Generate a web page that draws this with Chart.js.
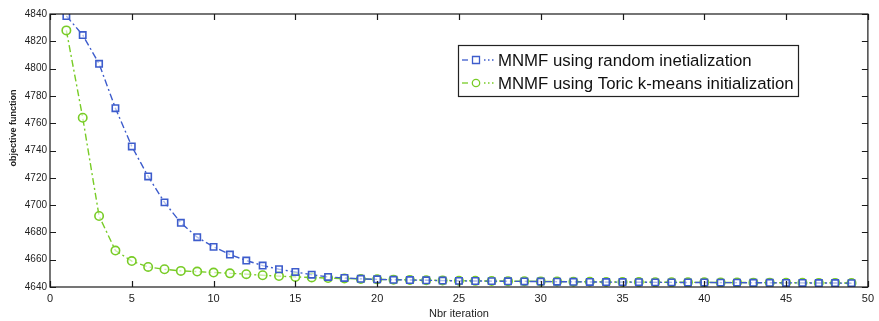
<!DOCTYPE html>
<html>
<head>
<meta charset="utf-8">
<script src="https://cdn.jsdelivr.net/npm/chart.js@4"></script>
<style>
  html, body { margin: 0; padding: 0; background: #ffffff; }
  #wrap { width: 879px; height: 321px; position: relative; }
</style>
</head>
<body>
<div id="wrap"><canvas id="c" width="879" height="321"></canvas></div>
<script>
// ---- data ----
const iterations = [1,2,3,4,5,6,7,8,9,10,11,12,13,14,15,16,17,18,19,20,21,22,23,24,25,26,27,28,29,30,31,32,33,34,35,36,37,38,39,40,41,42,43,44,45,46,47,48,49];
const randomInit = [4838.5,4824.6,4803.5,4771,4743,4721,4702,4687,4676.5,4669.4,4663.8,4659.4,4655.7,4653,4651,4649,4647.4,4646.6,4646,4645.6,4645.3,4645.1,4644.9,4644.7,4644.5,4644.4,4644.3,4644.2,4644.1,4644,4643.9,4643.8,4643.7,4643.6,4643.6,4643.5,4643.4,4643.4,4643.3,4643.3,4643.2,4643.2,4643.1,4643.1,4643,4643,4642.9,4642.9,4642.8];
const toricInit = [4828,4764,4692,4666.7,4659,4654.7,4653,4651.8,4651.3,4650.6,4650,4649.4,4648.6,4648,4647.4,4647,4646.6,4646.2,4645.9,4645.6,4645.4,4645.2,4645,4644.8,4644.6,4644.5,4644.4,4644.3,4644.2,4644.1,4644,4643.9,4643.8,4643.7,4643.7,4643.6,4643.5,4643.5,4643.4,4643.4,4643.3,4643.3,4643.2,4643.2,4643.1,4643.1,4643,4643,4642.9];
const seriesLabels = ["MNMF using random inetialization", "MNMF using Toric k-means initialization"];
const xTicks = [0,5,10,15,20,25,30,35,40,45,50];
const yTicks = [4640,4660,4680,4700,4720,4740,4760,4780,4800,4820,4840];
const xTitle = "Nbr iteration";
const yTitle = "objective function";

const BLUE = "#3d5ccc";
const GREEN = "#78cc26";
const AXIS_FONT = "'Liberation Sans', Arial, sans-serif";

function pts(xs, ys) { return xs.map((x, i) => ({ x: x, y: ys[i] })); }

const boxPlugin = {
  id: 'boxPlugin',
  afterDraw(chart) {
    const ctx = chart.ctx;
    const a = chart.chartArea;
    const xs = chart.scales.x, ys = chart.scales.y;
    ctx.save();
    ctx.strokeStyle = "#1a1a1a";
    ctx.lineWidth = 1.2;
    ctx.strokeRect(a.left, a.top, a.right - a.left, a.bottom - a.top);
    // inward ticks on all sides
    const tl = 6;
    ctx.beginPath();
    xTicks.forEach(v => {
      const px = Math.round(xs.getPixelForValue(v)) + 0.5;
      ctx.moveTo(px, a.bottom); ctx.lineTo(px, a.bottom - tl);
      ctx.moveTo(px, a.top); ctx.lineTo(px, a.top + tl);
    });
    yTicks.forEach(v => {
      const py = Math.round(ys.getPixelForValue(v)) + 0.5;
      ctx.moveTo(a.left, py); ctx.lineTo(a.left + tl, py);
      ctx.moveTo(a.right, py); ctx.lineTo(a.right - tl, py);
    });
    ctx.stroke();

    // y-axis title
    ctx.fillStyle = "#222";
    ctx.font = "bold 9px " + AXIS_FONT;
    ctx.textAlign = "center";
    ctx.textBaseline = "middle";
    ctx.translate(14, 128);
    ctx.rotate(-Math.PI / 2);
    ctx.fillText(yTitle, 0, 0);
    ctx.restore();

    // legend box
    ctx.save();
    const lx = 458, ly = 45, lw = 340, lh = 51;
    ctx.fillStyle = "#fff";
    ctx.fillRect(lx, ly, lw, lh);
    ctx.strokeStyle = "#222";
    ctx.lineWidth = 1.2;
    ctx.strokeRect(lx + 0.5, ly + 0.5, lw, lh);
    ctx.font = "16.8px 'Liberation Sans', Arial, sans-serif";
    ctx.textAlign = "left";
    ctx.textBaseline = "middle";
    const rows = [
      { y: ly + 15, color: BLUE, label: chart.data.datasets[0].label, style: 'rect' },
      { y: ly + 38, color: GREEN, label: chart.data.datasets[1].label, style: 'circle' }
    ];
    rows.forEach(r => {
      ctx.strokeStyle = r.color;
      ctx.lineWidth = 1.3;
      ctx.setLineDash([]);
      ctx.beginPath(); ctx.moveTo(lx + 4, r.y); ctx.lineTo(lx + 10, r.y); ctx.stroke();
      ctx.setLineDash([1.5, 2.5]);
      ctx.beginPath(); ctx.moveTo(lx + 26, r.y); ctx.lineTo(lx + 38, r.y); ctx.stroke();
      ctx.setLineDash([]);
      ctx.beginPath();
      if (r.style === 'rect') ctx.rect(lx + 14.5, r.y - 3.5, 7, 7);
      else ctx.arc(lx + 18, r.y, 3.7, 0, Math.PI * 2);
      ctx.stroke();
      ctx.fillStyle = "#111";
      ctx.fillText(r.label, lx + 40, r.y + 1);
    });
    ctx.restore();
  }
};

new Chart(document.getElementById('c'), {
  type: 'line',
  data: {
    datasets: [
      {
        label: seriesLabels[0],
        data: pts(iterations, randomInit),
        borderColor: BLUE,
        backgroundColor: 'transparent',
        borderWidth: 1.4,
        borderDash: [7, 3, 2, 3],
        pointStyle: 'rect',
        pointRadius: 4.5,
        pointBorderWidth: 1.6,
        pointBorderColor: BLUE,
        pointBackgroundColor: 'rgba(255,255,255,0.6)',
        tension: 0
      },
      {
        label: seriesLabels[1],
        data: pts(iterations, toricInit),
        borderColor: GREEN,
        backgroundColor: 'transparent',
        borderWidth: 1.4,
        borderDash: [7, 3, 2, 3],
        pointStyle: 'circle',
        pointRadius: 4.2,
        pointBorderWidth: 1.6,
        pointBorderColor: GREEN,
        pointBackgroundColor: 'rgba(255,255,255,0.6)',
        tension: 0
      }
    ]
  },
  options: {
    responsive: false,
    animation: false,
    devicePixelRatio: 1,
    layout: { padding: { top: 14, right: 6, left: 0, bottom: 0 } },
    plugins: {
      legend: { display: false },
      tooltip: { enabled: false }
    },
    scales: {
      x: {
        type: 'linear',
        min: 0, max: 50,
        afterBuildTicks: s => { s.ticks = xTicks.map(v => ({ value: v })); },
        afterFit: s => { s.height = 34; },
        grid: { display: false, drawTicks: false },
        border: { display: false },
        ticks: { color: '#222', font: { family: AXIS_FONT, size: 11 }, padding: 5, maxRotation: 0, callback: v => String(v) },
        title: { display: true, text: xTitle, color: '#222', font: { family: AXIS_FONT, size: 11 }, padding: { top: 1, bottom: 0 } }
      },
      y: {
        type: 'linear',
        min: 4640, max: 4840,
        afterBuildTicks: s => { s.ticks = yTicks.map(v => ({ value: v })); },
        afterFit: s => { s.width = 50; },
        grid: { display: false, drawTicks: false },
        border: { display: false },
        ticks: { color: '#222', font: { family: AXIS_FONT, size: 10 }, padding: 3, callback: v => String(v) }
      }
    }
  },
  plugins: [boxPlugin]
});
</script>
</body>
</html>
